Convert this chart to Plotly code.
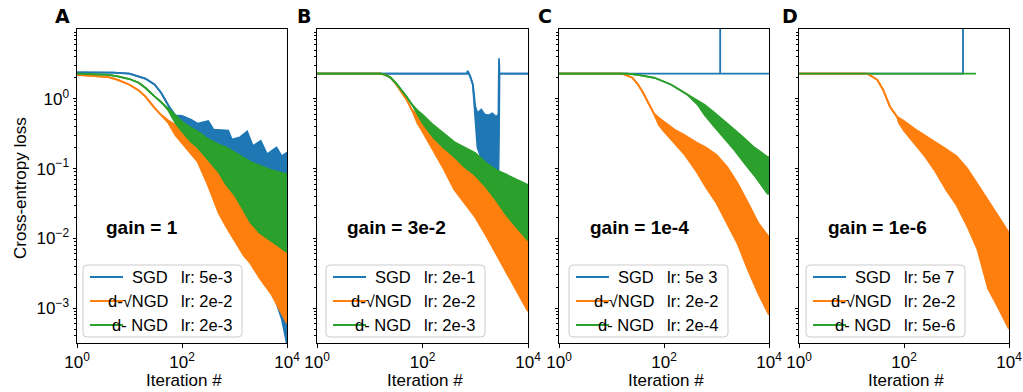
import plotly.graph_objects as go

W, H = 1023, 392
BLUE, ORANGE, GREEN = "#1f77b4", "#ff7f0e", "#2ca02c"
FONT = "Liberation Sans"

# ---------------- data (iterations, upper / lower envelope of noisy loss) ----------------
# Panel A, gain = 1
A_SGD_IT = [1, 5, 10, 15, 20, 30, 40, 55, 75, 100, 150, 200, 316, 400, 760, 890, 1260, 1740, 2240, 3160, 4170, 6310, 7940, 10000]
A_SGD_HI = [2.39, 2.37, 2.3, 2.1, 1.95, 1.6, 1.22, 0.8, 0.58, 0.57, 0.5, 0.44, 0.48, 0.36, 0.35, 0.26, 0.28, 0.34, 0.21, 0.25, 0.16, 0.2, 0.15, 0.17]
A_SGD_LO = [2.39, 2.37, 2.3, 2.1, 1.95, 1.6, 1.22, 0.8, 0.5, 0.38, 0.25, 0.17, 0.11, 0.08, 0.035, 0.028, 0.015, 0.01, 0.008, 0.005, 0.003, 0.0012, 0.0007, 0.0003]
A_IT = [1, 4, 6, 10, 15, 20, 30, 40, 55, 75, 100, 150, 200, 300, 500, 700, 1000, 1500, 2000, 3000, 5000, 7000, 10000]
A_SQ_HI = [2.2, 2.05, 1.87, 1.59, 1.32, 1.08, 0.74, 0.59, 0.49, 0.42, 0.34, 0.27, 0.22, 0.157, 0.08, 0.058, 0.046, 0.030, 0.024, 0.017, 0.012, 0.010, 0.008]
A_SQ_LO = [2.2, 2.05, 1.87, 1.59, 1.32, 1.08, 0.74, 0.59, 0.45, 0.30, 0.23, 0.157, 0.124, 0.062, 0.023, 0.0145, 0.0093, 0.0057, 0.0044, 0.0027, 0.0016, 0.001, 0.0006]
A_NG_HI = [2.29, 2.2, 2.09, 1.92, 1.7, 1.44, 1.08, 0.9, 0.72, 0.58, 0.47, 0.38, 0.34, 0.27, 0.22, 0.2, 0.17, 0.14, 0.125, 0.11, 0.095, 0.089, 0.083]
A_NG_LO = [2.29, 2.2, 2.09, 1.92, 1.7, 1.44, 1.08, 0.9, 0.68, 0.45, 0.34, 0.24, 0.2, 0.14, 0.089, 0.058, 0.042, 0.025, 0.017, 0.012, 0.0093, 0.0077, 0.0063]

# Panel B, gain = 3e-2
B_SGD_IT = [1, 700, 720, 800, 900, 1000, 1100, 1300, 1500, 1800, 2100, 2500, 2750, 2820, 2880, 10000]
B_SGD_HI = [2.29, 2.29, 2.5, 2.1, 1.6, 0.78, 0.62, 0.7, 0.6, 0.58, 0.62, 0.55, 0.6, 3.8, 2.29, 2.29]
B_SGD_LO = [2.29, 2.29, 2.5, 2.1, 1.6, 0.45, 0.2, 0.14, 0.12, 0.09, 0.08, 0.075, 0.08, 0.3, 2.29, 2.29]
B_IT = [1, 16, 20, 25, 32, 40, 50, 63, 80, 100, 160, 250, 400, 630, 1000, 1600, 2500, 4000, 6300, 10000]
B_SQ_HI = [2.29, 2.29, 2.2, 2.0, 1.6, 1.26, 0.97, 0.69, 0.59, 0.5, 0.32, 0.23, 0.167, 0.125, 0.09, 0.063, 0.045, 0.032, 0.022, 0.016]
B_SQ_LO = [2.29, 2.29, 2.2, 2.0, 1.6, 1.26, 0.97, 0.69, 0.45, 0.34, 0.185, 0.1, 0.05, 0.032, 0.02, 0.011, 0.006, 0.0032, 0.0017, 0.0009]
B_NG_HI = [2.29, 2.29, 2.2, 2.0, 1.65, 1.35, 1.07, 0.83, 0.68, 0.59, 0.42, 0.32, 0.24, 0.2, 0.167, 0.12, 0.095, 0.081, 0.068, 0.058]
B_NG_LO = [2.29, 2.29, 2.2, 2.0, 1.65, 1.35, 1.07, 0.83, 0.6, 0.45, 0.28, 0.2, 0.147, 0.105, 0.08, 0.054, 0.035, 0.021, 0.014, 0.0093]

# Panel C, gain = 1e-4
C_SGD_IT = [1, 1175, 1175, 1175, 10000]
C_SGD_Y = [2.29, 2.29, 1000, 2.29, 2.29]
C_SQ_IT = [1, 16, 25, 32, 40, 50, 63, 80, 100, 160, 250, 400, 630, 1000, 1600, 2500, 4000, 6300, 10000]
C_SQ_HI = [2.29, 2.29, 2.0, 1.6, 1.22, 0.88, 0.63, 0.53, 0.47, 0.36, 0.30, 0.24, 0.2, 0.157, 0.105, 0.062, 0.032, 0.0164, 0.0104]
C_SQ_LO = [2.29, 2.29, 2.0, 1.6, 1.22, 0.88, 0.63, 0.42, 0.34, 0.23, 0.157, 0.095, 0.054, 0.032, 0.0164, 0.0085, 0.0035, 0.0016, 0.0008]
C_NG_IT = [1, 20, 32, 66, 135, 280, 440, 590, 910, 1410, 2190, 3390, 5250, 9330, 10000]
C_NG_HI = [2.29, 2.29, 2.2, 2.0, 1.6, 1.14, 0.92, 0.82, 0.63, 0.47, 0.36, 0.27, 0.2, 0.147, 0.145]
C_NG_LO = [2.29, 2.29, 2.2, 2.0, 1.6, 1.14, 0.82, 0.59, 0.4, 0.27, 0.185, 0.12, 0.08, 0.044, 0.043]

# Panel D, gain = 1e-6
D_SGD_IT = [1, 1330, 1330]
D_SGD_Y = [2.29, 2.29, 1000]
D_NG_IT = [1, 2350]
D_NG_Y = [2.29, 2.29]
D_SQ_IT = [1, 20, 22, 31, 40, 54, 74, 80, 100, 160, 250, 400, 630, 1000, 1600, 2500, 4000, 6300, 10000]
D_SQ_HI = [2.29, 2.29, 2.2, 1.87, 1.35, 0.77, 0.55, 0.53, 0.48, 0.37, 0.3, 0.24, 0.19, 0.15, 0.1, 0.06, 0.035, 0.02, 0.012]
D_SQ_LO = [2.29, 2.29, 2.2, 1.87, 1.35, 0.77, 0.55, 0.45, 0.35, 0.23, 0.15, 0.09, 0.05, 0.03, 0.015, 0.007, 0.0019, 0.001, 0.0005]

GAINS = ["gain = 1", "gain = 3e-2", "gain = 1e-4", "gain = 1e-6"]
PANEL_LETTERS = ["A", "B", "C", "D"]
LEG_NAMES = ["SGD", "d-√NGD", "d- NGD"]
LEG_LR = [["lr: 5e-3", "lr: 2e-2", "lr: 2e-3"],
          ["lr: 2e-1", "lr: 2e-2", "lr: 2e-3"],
          ["lr: 5e 3", "lr: 2e-2", "lr: 2e-4"],
          ["lr: 5e 7", "lr: 2e-2", "lr: 5e-6"]]
X_TICKS = [1, 100, 10000]
X_TICKTEXT = ["10<sup>0</sup>", "10<sup>2</sup>", "10<sup>4</sup>"]
Y_TICKS = [1e-3, 1e-2, 1e-1, 1]
Y_TICKTEXT = ["10<sup>−3</sup>", "10<sup>−2</sup>", "10<sup>−1</sup>", "10<sup>0</sup>"]

# ---------------- layout geometry (pixels) ----------------
PLOT_L = [77, 317, 559, 799]
PLOT_R = [287, 528, 769, 1009]
PLOT_T, PLOT_B = 29, 343
LEG_L = [83, 326, 569, 806]
LETTER_X = [53, 295, 536, 780]
GAIN_X = [104, 345, 588, 826]

def px(x):
    return x / W

def py(y):
    return 1 - y / H

fig = go.Figure()

def band(i, it, hi, lo, color):
    ax = "" if i == 0 else str(i + 1)
    fig.add_trace(go.Scatter(x=it, y=lo, mode="lines", line=dict(color=color, width=1.8),
                             xaxis="x" + ax, yaxis="y" + ax, showlegend=False, hoverinfo="skip"))
    fig.add_trace(go.Scatter(x=it, y=hi, mode="lines", line=dict(color=color, width=1.8),
                             fill="tonexty", fillcolor=color,
                             xaxis="x" + ax, yaxis="y" + ax, showlegend=False, hoverinfo="skip"))

def line(i, it, y, color):
    ax = "" if i == 0 else str(i + 1)
    fig.add_trace(go.Scatter(x=it, y=y, mode="lines", line=dict(color=color, width=1.8),
                             xaxis="x" + ax, yaxis="y" + ax, showlegend=False, hoverinfo="skip"))

band(0, A_SGD_IT, A_SGD_HI, A_SGD_LO, BLUE)
band(0, A_IT, A_SQ_HI, A_SQ_LO, ORANGE)
band(0, A_IT, A_NG_HI, A_NG_LO, GREEN)

band(1, B_SGD_IT, B_SGD_HI, B_SGD_LO, BLUE)
band(1, B_IT, B_SQ_HI, B_SQ_LO, ORANGE)
band(1, B_IT, B_NG_HI, B_NG_LO, GREEN)

line(2, C_SGD_IT, C_SGD_Y, BLUE)
band(2, C_SQ_IT, C_SQ_HI, C_SQ_LO, ORANGE)
band(2, C_NG_IT, C_NG_HI, C_NG_LO, GREEN)

line(3, D_SGD_IT, D_SGD_Y, BLUE)
band(3, D_SQ_IT, D_SQ_HI, D_SQ_LO, ORANGE)
line(3, D_NG_IT, D_NG_Y, GREEN)

minor_y = [m * 10 ** e for e in range(-4, 1) for m in range(2, 10)]

layout = dict(width=W, height=H, autosize=False, margin=dict(l=0, r=0, t=0, b=0, pad=0, autoexpand=False),
              paper_bgcolor="white", plot_bgcolor="white",
              font=dict(family=FONT, size=16, color="black"))
for i in range(4):
    ax = "" if i == 0 else str(i + 1)
    layout["xaxis" + ax] = dict(
        type="log", range=[0, 4], domain=[px(PLOT_L[i]), px(PLOT_R[i])], automargin=False,
        anchor="y" + ax, tickmode="array", tickvals=X_TICKS, ticktext=X_TICKTEXT,
        ticks="outside", ticklen=3.5, tickwidth=1, tickcolor="black",
        showline=True, linecolor="black", linewidth=1, mirror=True,
        showgrid=False, zeroline=False, tickfont=dict(family=FONT, size=17, color="black"))
    layout["yaxis" + ax] = dict(
        type="log", range=[-3.5, 1.0], domain=[py(PLOT_B), py(PLOT_T)], automargin=False,
        anchor="x" + ax, tickmode="array", tickvals=Y_TICKS, ticktext=Y_TICKTEXT,
        showticklabels=(i == 0),
        ticks="outside", ticklen=3.5, tickwidth=1, tickcolor="black",
        minor=dict(tickmode="array", tickvals=minor_y, ticks="outside", ticklen=2,
                   tickwidth=0.8, tickcolor="black", showgrid=False),
        showline=True, linecolor="black", linewidth=1, mirror=True,
        showgrid=False, zeroline=False, tickfont=dict(family=FONT, size=17, color="black"))
fig.update_layout(**layout)

shapes, annotations = [], []

def rounded_rect(x0, y0, x1, y1, r):
    p = lambda x, y: f"{px(x):.5f},{py(y):.5f}"
    return (f"M {p(x0 + r, y0)} L {p(x1 - r, y0)} Q {p(x1, y0)} {p(x1, y0 + r)} "
            f"L {p(x1, y1 - r)} Q {p(x1, y1)} {p(x1 - r, y1)} L {p(x0 + r, y1)} "
            f"Q {p(x0, y1)} {p(x0, y1 - r)} L {p(x0, y0 + r)} Q {p(x0, y0)} {p(x0 + r, y0)} Z")

ROW_Y = [277, 301, 325]
COLORS = [BLUE, ORANGE, GREEN]
for i in range(4):
    L = LEG_L[i]
    shapes.append(dict(type="path", xref="paper", yref="paper",
                       path=rounded_rect(L, 265, L + 159, 337, 4),
                       line=dict(color="#cccccc", width=1),
                       fillcolor="rgba(255,255,255,0.8)", layer="above"))
    for r in range(3):
        shapes.append(dict(type="line", xref="paper", yref="paper",
                           x0=px(L + 7), x1=px(L + 40), y0=py(ROW_Y[r]), y1=py(ROW_Y[r]),
                           line=dict(color=COLORS[r], width=2), layer="above"))
        annotations.append(dict(text=LEG_NAMES[r], xref="paper", yref="paper",
                                x=px(L + 87), y=py(ROW_Y[r]), xanchor="right", yanchor="middle",
                                showarrow=False, font=dict(family=FONT, size=16.5, color="black")))
        annotations.append(dict(text=LEG_LR[i][r], xref="paper", yref="paper",
                                x=px(L + 96), y=py(ROW_Y[r]), xanchor="left", yanchor="middle",
                                showarrow=False, font=dict(family=FONT, size=16.5, color="black")))
    annotations.append(dict(text="<b>" + GAINS[i] + "</b>", xref="paper", yref="paper",
                            x=px(GAIN_X[i]), y=py(227), xanchor="left", yanchor="middle",
                            showarrow=False, font=dict(family=FONT, size=19, color="black")))
    annotations.append(dict(text="<b>" + PANEL_LETTERS[i] + "</b>", xref="paper", yref="paper",
                            x=px(LETTER_X[i]), y=py(16), xanchor="left", yanchor="middle",
                            showarrow=False, font=dict(family="DejaVu Sans", size=19, color="black")))
    annotations.append(dict(text="Iteration #", xref="paper", yref="paper",
                            x=px((PLOT_L[i] + PLOT_R[i]) / 2 + 2), y=py(380),
                            xanchor="center", yanchor="middle",
                            showarrow=False, font=dict(family=FONT, size=17, color="black")))

annotations.append(dict(text="Cross-entropy loss", xref="paper", yref="paper",
                        x=px(20), y=py(188), xanchor="center", yanchor="middle", textangle=-90,
                        showarrow=False, font=dict(family=FONT, size=17, color="black")))

fig.update_layout(shapes=shapes, annotations=annotations)
fig.write_html("out.html")
